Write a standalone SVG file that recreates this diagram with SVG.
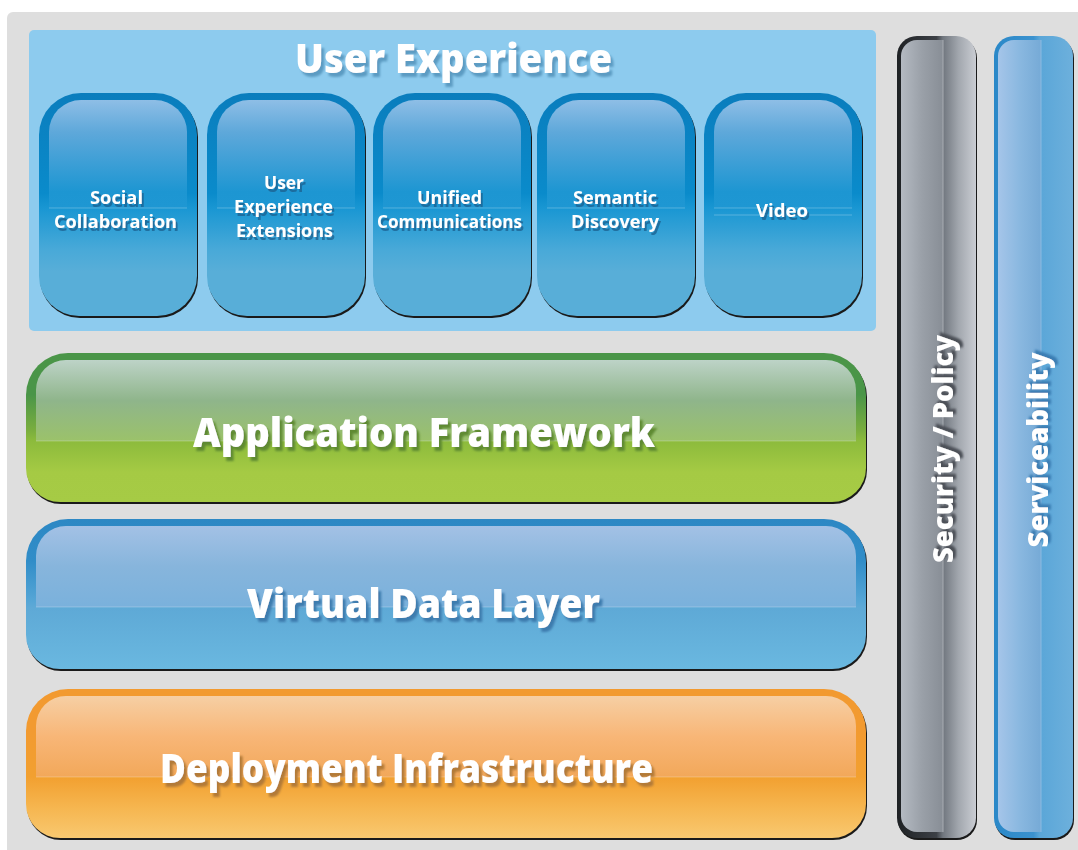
<svg xmlns="http://www.w3.org/2000/svg" xmlns:xlink="http://www.w3.org/1999/xlink" width="1078" height="850" viewBox="0 0 1078 850">
<style>
.big{font-family:"Open Sans","Noto Sans","DejaVu Sans",sans-serif;font-weight:800;font-size:41px;fill:#ffffff}
.tile{font-family:"Open Sans","Noto Sans","DejaVu Sans",sans-serif;font-weight:700;font-size:18.5px;fill:#ffffff;text-anchor:middle}
.vert{font-family:"Open Sans","Noto Sans","DejaVu Sans",sans-serif;font-weight:800;font-size:29px;fill:#ffffff;text-anchor:middle}
.shadow{fill:#1a1a1a}
.hl{stroke:#ffffff;stroke-opacity:0.25;stroke-width:1}
</style>
<defs>
<filter id="fsUX" x="-10%" y="-30%" width="120%" height="160%"><feDropShadow dx="3" dy="4" stdDeviation="0.8" flood-color="#5b9bc2" flood-opacity="1"/></filter>
<filter id="fsTile" x="-10%" y="-30%" width="120%" height="160%"><feDropShadow dx="2" dy="3" stdDeviation="0.7" flood-color="#1c5f8e" flood-opacity="0.75"/></filter>
<filter id="fsApp" x="-10%" y="-30%" width="120%" height="160%"><feDropShadow dx="3" dy="4" stdDeviation="0.8" flood-color="#5e8a32" flood-opacity="1"/></filter>
<filter id="fsVdl" x="-10%" y="-30%" width="120%" height="160%"><feDropShadow dx="3" dy="4" stdDeviation="0.8" flood-color="#3c7bae" flood-opacity="1"/></filter>
<filter id="fsDep" x="-10%" y="-30%" width="120%" height="160%"><feDropShadow dx="3" dy="4" stdDeviation="0.8" flood-color="#b27a38" flood-opacity="1"/></filter>
<filter id="fsSec" x="-30%" y="-10%" width="160%" height="120%"><feDropShadow dx="3" dy="3" stdDeviation="0.8" flood-color="#4c5056" flood-opacity="1"/></filter>
<filter id="fsSrv" x="-30%" y="-10%" width="160%" height="120%"><feDropShadow dx="3" dy="3" stdDeviation="0.8" flood-color="#3b7db2" flood-opacity="1"/></filter>

<linearGradient id="gTileOuter" x1="0" y1="0" x2="0" y2="1">
<stop offset="0" stop-color="#0a7dbd"/><stop offset="0.45" stop-color="#0a8bcb"/><stop offset="0.52" stop-color="#1a97d3"/><stop offset="0.7" stop-color="#48a9d8"/><stop offset="0.8" stop-color="#58aed8"/><stop offset="1" stop-color="#58aed8"/>
</linearGradient>
<linearGradient id="gTileGloss" x1="0" y1="0" x2="0" y2="1">
<stop offset="0" stop-color="#8ebee6"/><stop offset="0.3" stop-color="#5ea8da"/><stop offset="0.85" stop-color="#1d96d2"/><stop offset="1" stop-color="#1e97d3"/>
</linearGradient>

<linearGradient id="gAppOuter" x1="0" y1="0" x2="0" y2="1">
<stop offset="0" stop-color="#4a9548"/><stop offset="0.28" stop-color="#4a9548"/><stop offset="0.52" stop-color="#7aae3e"/><stop offset="0.59" stop-color="#8cbb3c"/><stop offset="0.8" stop-color="#a5ca44"/><stop offset="1" stop-color="#a6cb45"/>
</linearGradient>
<linearGradient id="gAppGloss" x1="0" y1="0" x2="0" y2="1">
<stop offset="0" stop-color="#bdd3c7"/><stop offset="0.5" stop-color="#8fb58b"/><stop offset="1" stop-color="#9bc26a"/>
</linearGradient>

<linearGradient id="gVdlOuter" x1="0" y1="0" x2="0" y2="1">
<stop offset="0" stop-color="#2d88c4"/><stop offset="0.28" stop-color="#318dc8"/><stop offset="0.55" stop-color="#56a6d6"/><stop offset="0.59" stop-color="#5ea9d6"/><stop offset="1" stop-color="#6ab8e0"/>
</linearGradient>
<linearGradient id="gVdlGloss" x1="0" y1="0" x2="0" y2="1">
<stop offset="0" stop-color="#a3c1e5"/><stop offset="0.5" stop-color="#87b5dc"/><stop offset="1" stop-color="#7ab1dc"/>
</linearGradient>

<linearGradient id="gDepOuter" x1="0" y1="0" x2="0" y2="1">
<stop offset="0" stop-color="#f29a30"/><stop offset="0.28" stop-color="#f29a30"/><stop offset="0.59" stop-color="#f2a030"/><stop offset="0.8" stop-color="#f6b650"/><stop offset="1" stop-color="#f8c870"/>
</linearGradient>
<linearGradient id="gDepGloss" x1="0" y1="0" x2="0" y2="1">
<stop offset="0" stop-color="#f6cfa4"/><stop offset="0.5" stop-color="#f8b677"/><stop offset="1" stop-color="#f2a85a"/>
</linearGradient>

<linearGradient id="gSecOuter" x1="0" y1="0" x2="1" y2="0">
<stop offset="0" stop-color="#1e2124"/><stop offset="0.5" stop-color="#3c4046"/><stop offset="0.58" stop-color="#70767e"/><stop offset="0.78" stop-color="#a2a7ae"/><stop offset="1" stop-color="#cacdd3"/>
</linearGradient>
<linearGradient id="gSecGloss" x1="0" y1="0" x2="1" y2="0">
<stop offset="0" stop-color="#b4bac2"/><stop offset="0.5" stop-color="#9aa0a8"/><stop offset="1" stop-color="#888e96"/>
</linearGradient>
<linearGradient id="gSrvOuter" x1="0" y1="0" x2="1" y2="0">
<stop offset="0" stop-color="#2a88c8"/><stop offset="0.5" stop-color="#3b92cf"/><stop offset="0.58" stop-color="#5aa6d8"/><stop offset="1" stop-color="#6db0dc"/>
</linearGradient>
<linearGradient id="gSrvGloss" x1="0" y1="0" x2="1" y2="0">
<stop offset="0" stop-color="#a5c5e9"/><stop offset="0.5" stop-color="#8ab8e0"/><stop offset="1" stop-color="#76aad6"/>
</linearGradient>

<path id="tileOuter" d="M42,0 H116 A42,42 0 0 1 158,42 V183 A40,40 0 0 1 118,223 H40 A40,40 0 0 1 0,183 V42 A42,42 0 0 1 42,0 Z"/>
<path id="tileGloss" d="M42,7 H116 A32,32 0 0 1 148,39 V115 H10 V39 A32,32 0 0 1 42,7 Z"/>
</defs>

<rect x="0" y="0" width="1078" height="850" fill="#ffffff"/>
<rect x="7" y="12" width="1090" height="860" rx="6" fill="#dedede"/>

<g id="user-experience">
<rect x="29" y="30" width="847" height="301" rx="5" fill="#8dcbee"/>
<text class="big" x="295" y="73" textLength="317" lengthAdjust="spacingAndGlyphs" filter="url(#fsUX)">User Experience</text>
</g>

<g id="social-collaboration" transform="translate(39,93)">
<use href="#tileOuter" class="shadow" transform="translate(1,2)"/>
<use href="#tileOuter" fill="url(#gTileOuter)"/>
<use href="#tileGloss" fill="url(#gTileGloss)"/>
<line x1="10" y1="115" x2="148" y2="115" class="hl"/>
<g filter="url(#fsTile)">
<text class="tile" x="77.5" y="111" textLength="53" lengthAdjust="spacingAndGlyphs">Social</text>
<text class="tile" x="76.5" y="135" textLength="123" lengthAdjust="spacingAndGlyphs">Collaboration</text>
</g>
</g>

<g id="user-experience-extensions" transform="translate(207,93)">
<use href="#tileOuter" class="shadow" transform="translate(1,2)"/>
<use href="#tileOuter" fill="url(#gTileOuter)"/>
<use href="#tileGloss" fill="url(#gTileGloss)"/>
<line x1="10" y1="115" x2="148" y2="115" class="hl"/>
<g filter="url(#fsTile)">
<text class="tile" x="77" y="96" textLength="40" lengthAdjust="spacingAndGlyphs">User</text>
<text class="tile" x="76.5" y="120" textLength="99" lengthAdjust="spacingAndGlyphs">Experience</text>
<text class="tile" x="77.5" y="144" textLength="97" lengthAdjust="spacingAndGlyphs">Extensions</text>
</g>
</g>

<g id="unified-communications" transform="translate(373,93)">
<use href="#tileOuter" class="shadow" transform="translate(1,2)"/>
<use href="#tileOuter" fill="url(#gTileOuter)"/>
<use href="#tileGloss" fill="url(#gTileGloss)"/>
<line x1="10" y1="115" x2="148" y2="115" class="hl"/>
<g filter="url(#fsTile)">
<text class="tile" x="76.5" y="111" textLength="65" lengthAdjust="spacingAndGlyphs">Unified</text>
<text class="tile" x="76.5" y="135" textLength="145" lengthAdjust="spacingAndGlyphs">Communications</text>
</g>
</g>

<g id="semantic-discovery" transform="translate(537,93)">
<use href="#tileOuter" class="shadow" transform="translate(1,2)"/>
<use href="#tileOuter" fill="url(#gTileOuter)"/>
<use href="#tileGloss" fill="url(#gTileGloss)"/>
<line x1="10" y1="115" x2="148" y2="115" class="hl"/>
<g filter="url(#fsTile)">
<text class="tile" x="78" y="111" textLength="84" lengthAdjust="spacingAndGlyphs">Semantic</text>
<text class="tile" x="78" y="135" textLength="88" lengthAdjust="spacingAndGlyphs">Discovery</text>
</g>
</g>

<g id="video" transform="translate(704,93)">
<use href="#tileOuter" class="shadow" transform="translate(1,2)"/>
<use href="#tileOuter" fill="url(#gTileOuter)"/>
<use href="#tileGloss" fill="url(#gTileGloss)"/>
<line x1="10" y1="115" x2="148" y2="115" class="hl"/>
<line x1="10" y1="122" x2="148" y2="122" class="hl"/>
<g filter="url(#fsTile)">
<text class="tile" x="78" y="124" textLength="52" lengthAdjust="spacingAndGlyphs">Video</text>
</g>
</g>

<g id="application-framework">
<path class="shadow" transform="translate(1,2)" d="M68,353 H824 A42,42 0 0 1 866,395 V468 A34,34 0 0 1 832,502 H60 A34,34 0 0 1 26,468 V395 A42,42 0 0 1 68,353 Z"/>
<path fill="url(#gAppOuter)" d="M68,353 H824 A42,42 0 0 1 866,395 V468 A34,34 0 0 1 832,502 H60 A34,34 0 0 1 26,468 V395 A42,42 0 0 1 68,353 Z"/>
<path fill="url(#gAppGloss)" d="M66,360 H826 A30,30 0 0 1 856,390 V441 H36 V390 A30,30 0 0 1 66,360 Z"/>
<line x1="36" y1="441" x2="856" y2="441" class="hl"/>
<text class="big" x="193" y="447" textLength="462" lengthAdjust="spacingAndGlyphs" filter="url(#fsApp)">Application Framework</text>
</g>

<g id="virtual-data-layer">
<path class="shadow" transform="translate(1,2)" d="M68,519 H824 A42,42 0 0 1 866,561 V635 A34,34 0 0 1 832,669 H60 A34,34 0 0 1 26,635 V561 A42,42 0 0 1 68,519 Z"/>
<path fill="url(#gVdlOuter)" d="M68,519 H824 A42,42 0 0 1 866,561 V635 A34,34 0 0 1 832,669 H60 A34,34 0 0 1 26,635 V561 A42,42 0 0 1 68,519 Z"/>
<path fill="url(#gVdlGloss)" d="M66,526 H826 A30,30 0 0 1 856,556 V607 H36 V556 A30,30 0 0 1 66,526 Z"/>
<line x1="36" y1="607" x2="856" y2="607" class="hl"/>
<text class="big" x="247" y="618" textLength="353" lengthAdjust="spacingAndGlyphs" filter="url(#fsVdl)">Virtual Data Layer</text>
</g>

<g id="deployment-infrastructure">
<path class="shadow" transform="translate(1,2)" d="M68,689 H824 A42,42 0 0 1 866,731 V804 A34,34 0 0 1 832,838 H60 A34,34 0 0 1 26,804 V731 A42,42 0 0 1 68,689 Z"/>
<path fill="url(#gDepOuter)" d="M68,689 H824 A42,42 0 0 1 866,731 V804 A34,34 0 0 1 832,838 H60 A34,34 0 0 1 26,804 V731 A42,42 0 0 1 68,689 Z"/>
<path fill="url(#gDepGloss)" d="M66,696 H826 A30,30 0 0 1 856,726 V777 H36 V726 A30,30 0 0 1 66,696 Z"/>
<line x1="36" y1="777" x2="856" y2="777" class="hl"/>
<text class="big" x="160" y="783" textLength="493" lengthAdjust="spacingAndGlyphs" filter="url(#fsDep)">Deployment Infrastructure</text>
</g>

<g id="security-policy">
<rect class="shadow" x="898" y="38" width="79" height="802" rx="20"/>
<rect x="897" y="36" width="79" height="802" rx="20" fill="url(#gSecOuter)"/>
<path fill="url(#gSecGloss)" d="M917,40 H943 V832 H917 A16,16 0 0 1 901,816 V56 A16,16 0 0 1 917,40 Z"/>
<line x1="943" y1="40" x2="943" y2="832" stroke="#a9adb3" stroke-width="1"/>
<text class="vert" transform="translate(953,449) rotate(-90)" x="0" y="0" textLength="228" lengthAdjust="spacingAndGlyphs" filter="url(#fsSec)">Security / Policy</text>
</g>

<g id="serviceability">
<rect class="shadow" x="995" y="38" width="79" height="802" rx="20"/>
<rect x="994" y="36" width="79" height="802" rx="20" fill="url(#gSrvOuter)"/>
<path fill="url(#gSrvGloss)" d="M1014,40 H1041 V832 H1014 A16,16 0 0 1 998,816 V56 A16,16 0 0 1 1014,40 Z"/>
<line x1="1041" y1="40" x2="1041" y2="832" stroke="#8cbbe2" stroke-width="1"/>
<text class="vert" transform="translate(1048,450) rotate(-90)" x="0" y="0" textLength="195" lengthAdjust="spacingAndGlyphs" filter="url(#fsSrv)">Serviceability</text>
</g>

<g id="connectors"/>
</svg>
